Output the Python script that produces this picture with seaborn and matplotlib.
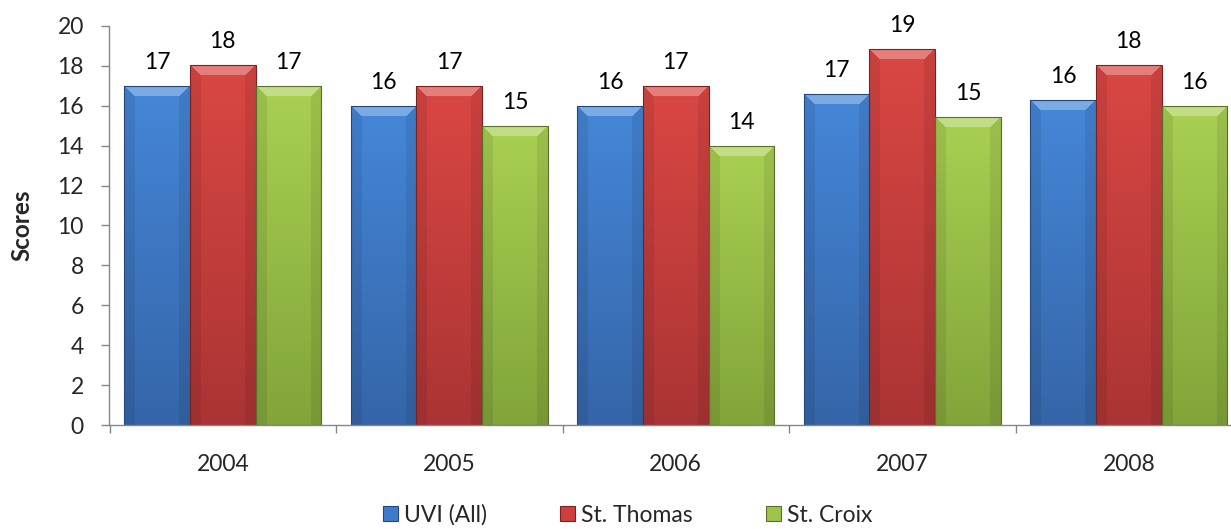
import matplotlib
matplotlib.use("Agg")
import matplotlib.pyplot as plt
import matplotlib.colors as mcolors
import seaborn as sns
import pandas as pd
import numpy as np
from matplotlib.patches import Patch

years = ["2004", "2005", "2006", "2007", "2008"]
series = ["UVI (All)", "St. Thomas", "St. Croix"]
uvi_all = [17.0, 16.0, 16.0, 16.6, 16.3]
st_thomas = [18.05, 17.0, 17.0, 18.85, 18.05]
st_croix = [17.0, 15.0, 14.0, 15.45, 16.0]
y_ticks = [0, 2, 4, 6, 8, 10, 12, 14, 16, 18, 20]

colors = ["#3E7CCB", "#D13F3D", "#9CC44B"]
top_colors = ["#4587D8", "#DA4743", "#A9D052"]
bottom_colors = ["#3565A8", "#AA3434", "#82A43A"]
edges = ["#24487C", "#7A2222", "#5A6E2C"]

rows = []
for s, vals in zip(series, [uvi_all, st_thomas, st_croix]):
    for y, v in zip(years, vals):
        rows.append({"Year": y, "Series": s, "Score": v})
df = pd.DataFrame(rows)

sns.set_theme(style="white")
plt.rcParams["font.family"] = ["Lato", "DejaVu Sans"]
FS = 16.5

fig = plt.figure(figsize=(12.31, 5.29), dpi=100)
ax = fig.add_axes([109.5 / 1231, 1 - 425 / 529, (1242 - 109.5) / 1231, (425 - 26) / 529])

sns.barplot(data=df, x="Year", y="Score", hue="Series", order=years, hue_order=series,
            palette=colors, width=0.87, gap=0, ax=ax, legend=False, errorbar=None,
            saturation=1)

ax.set_ylim(0, 20)
ax.set_xlim(-0.5, 4.5)

px_per_unit_y = (425 - 26) / 20.0
px_per_unit_x = (1242 - 109.5) / 5.0


def bevel_image(h, w_units, ctop, cbot):
    H = max(int(round(h * px_per_unit_y)), 2)
    W = max(int(round(w_units * px_per_unit_x)), 2)
    t = np.linspace(0, 1, H)[:, None]  # 0 at top
    ct = np.array(mcolors.to_rgb(ctop))
    cb = np.array(mcolors.to_rgb(cbot))
    img = (1 - t)[..., None] * ct + t[..., None] * cb
    img = np.repeat(img, W, axis=1)
    r = np.arange(H)[:, None] * np.ones((1, W))
    c = np.ones((H, 1)) * np.arange(W)[None, :]
    dside = np.minimum(c, W - 1 - c)
    b = 11
    top_mask = (r < b) & (r <= dside)
    side_mask = (~top_mask) & (dside < b)
    img[top_mask] = img[top_mask] * 0.7 + 0.3 * np.array([1, 1, 1])
    img[side_mask] = img[side_mask] * 0.92
    return np.clip(img, 0, 1)


for i, cont in enumerate(ax.containers):
    for p in cont:
        x0, w, h = p.get_x(), p.get_width(), p.get_height()
        img = bevel_image(h, w, top_colors[i], bottom_colors[i])
        im = ax.imshow(img, extent=(x0, x0 + w, 0, h), origin="upper", aspect="auto",
                       zorder=2, interpolation="bilinear")
        im.set_clip_path(p)
        p.set_facecolor("none")
        p.set_edgecolor(edges[i])
        p.set_linewidth(0.8)
        p.set_zorder(3)
    ax.bar_label(cont, labels=[f"{v:.0f}" for v in cont.datavalues], padding=9.5,
                 fontsize=FS, color="black")

ax.set_ylim(0, 20)
ax.set_xlim(-0.5, 4.5)
ax.set_aspect("auto")
ax.set_yticks(y_ticks)
ax.set_yticklabels([str(t) for t in y_ticks], fontsize=FS)
ax.set_xticks(range(len(years)))
ax.set_xticklabels(years, fontsize=FS)
ax.set_xticks(np.arange(-0.5, 5.0, 1.0), minor=True)
ax.tick_params(axis="x", which="major", length=0, pad=21)
ax.tick_params(axis="x", which="minor", length=6, width=1, color="#868686", direction="out", bottom=True)
ax.tick_params(axis="y", length=5.5, width=1, color="#868686", direction="out", left=True, pad=13)
ax.set_xlabel("")
ax.set_ylabel("Scores", fontsize=17.5, fontweight="bold")
ax.yaxis.set_label_coords(-0.0667, 0.5)
for s in ["top", "right"]:
    ax.spines[s].set_visible(False)
for s in ["left", "bottom"]:
    ax.spines[s].set_color("#868686")
    ax.spines[s].set_linewidth(1)
    ax.spines[s].set_zorder(4)

handles = [Patch(facecolor=c, edgecolor=e, linewidth=0.8) for c, e in zip(colors, edges)]
fig.legend(handles, series, loc="center", bbox_to_anchor=(0.510, 1 - 515 / 529), ncol=3,
           frameon=False, fontsize=FS, handlelength=0.65, handleheight=0.65,
           handletextpad=0.26, columnspacing=3.2, borderpad=0.0)

fig.savefig("out.png", dpi=100)
